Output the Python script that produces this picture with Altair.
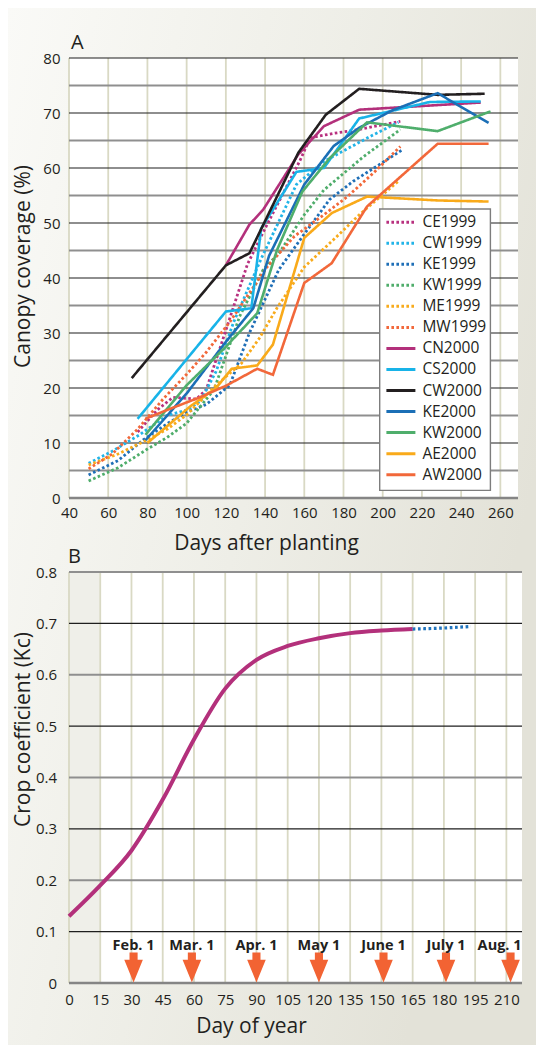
import altair as alt
import pandas as pd

FONT = "Open Sans"
INK = "#231f20"

# ---------------- Panel A: canopy coverage ----------------
SERIES = ["CE1999", "CW1999", "KE1999", "KW1999", "ME1999", "MW1999",
          "CN2000", "CS2000", "CW2000", "KE2000", "KW2000", "AE2000", "AW2000"]
COLORS = ["#b8307f", "#22b4e8", "#1f6fb7", "#4fad6b", "#f8ab1c", "#f2683a",
          "#b3307b", "#18b3e8", "#231f20", "#1b6fb6", "#4fae6c", "#f9aa1a", "#f2683a"]
DASHES = [[2.6, 2.4]] * 6 + [[1, 0]] * 7

CE1999_DAY = [75, 85, 93, 105, 110, 120, 131, 140, 158, 163, 175, 188, 209]
CE1999_COV = [12, 16, 18.3, 18, 19.7, 30.5, 42.5, 49, 61.5, 65.5, 66.3, 67, 68.5]
CW1999_DAY = [50, 62, 76, 90, 100, 107, 115, 124, 138, 156, 170, 195, 208]
CW1999_COV = [6.3, 8.5, 11.5, 15, 16, 17.6, 23, 32, 43.5, 57, 61.2, 66, 68.3]
KE1999_DAY = [50, 65, 78, 90, 100, 110, 122, 132, 147, 160, 173, 185, 210]
KE1999_COV = [4.2, 6.8, 10.6, 13.5, 15.6, 17, 20.5, 30, 41.5, 48, 54.3, 57.6, 63.3]
KW1999_DAY = [50, 65, 80, 90, 100, 114, 127, 139, 147, 160, 170, 190, 209]
KW1999_COV = [3.1, 5.5, 8.9, 11, 13.6, 19.7, 33, 41.5, 44.5, 51.5, 56, 62, 67]
ME1999_DAY = [50, 65, 80, 90, 100, 115, 128, 137, 146, 160, 175, 189, 208]
ME1999_COV = [6, 8, 10.6, 12.5, 15.1, 20.5, 24.5, 29, 34.5, 42, 47, 51.8, 57.6]
MW1999_DAY = [50, 62, 75, 88, 100, 110, 122, 141, 155, 170, 182, 195, 209]
MW1999_COV = [5.3, 8, 12.5, 18, 22.5, 26.5, 32, 42, 47.6, 51.5, 54.8, 59, 63.9]
CN2000_DAY = [120, 132, 139, 157, 170, 188, 250]
CN2000_COV = [42.3, 49.7, 52.4, 62.5, 67.6, 70.6, 71.9]
CS2000_DAY = [75, 120, 133, 138, 156, 170, 188, 224, 250]
CS2000_COV = [14.4, 33.9, 34.5, 49, 59.3, 60, 69, 72, 72.1]
CW2000_DAY = [72, 120, 132, 157, 171, 188, 228, 252]
CW2000_COV = [21.8, 42.3, 44.5, 62.8, 69.7, 74.4, 73.3, 73.5]
KE2000_DAY = [79, 100, 120, 134, 142, 160, 175, 188, 205, 228, 254]
KE2000_COV = [10.5, 19, 28.4, 34.5, 44, 57, 64, 67.3, 70.5, 73.6, 68.2]
KW2000_DAY = [79, 100, 120, 136, 146, 159, 173, 192, 228, 255]
KW2000_COV = [11.5, 20.5, 27.5, 33.6, 45, 55.7, 61.8, 68.3, 66.7, 70.3]
AE2000_DAY = [80, 102, 115, 123, 136, 144, 160, 174, 192, 228, 254]
AE2000_COV = [10, 16.7, 20, 23.5, 24.1, 27.9, 47.3, 51.8, 54.8, 54.1, 53.9]
AW2000_DAY = [79, 90, 106, 120, 136, 144, 160, 174, 192, 228, 254]
AW2000_COV = [14.4, 16, 18.2, 20.4, 23.5, 22.4, 39.1, 42.7, 53, 64.4, 64.4]

A_X_TICKS = [40, 60, 80, 100, 120, 140, 160, 180, 200, 220, 240, 260]
A_Y_TICKS = [0, 10, 20, 30, 40, 50, 60, 70, 80]
A_MINOR = [5, 15, 25, 35, 45, 55, 65, 75]

# ---------------- Panel B: crop coefficient ----------------
KC_DAY = [0, 15, 30, 45, 60, 75, 90, 105, 120, 135, 150, 165]
KC_VAL = [0.13, 0.19, 0.258, 0.357, 0.474, 0.573, 0.629, 0.656, 0.671, 0.681, 0.686, 0.689]
KC_EXT_DAY = [165, 180, 193]
KC_EXT_VAL = [0.689, 0.691, 0.694]

MONTH_DAY = [31, 59, 90, 120, 151, 181, 212]
MONTH_LABEL = ["Feb. 1", "Mar. 1", "Apr. 1", "May 1", "June 1", "July 1", "Aug. 1"]

B_X_TICKS = [0, 15, 30, 45, 60, 75, 90, 105, 120, 135, 150, 165, 180, 195, 210]
B_Y_TICKS = [0, 0.1, 0.2, 0.3, 0.4, 0.5, 0.6, 0.7, 0.8]
B_MAJOR = [0.1, 0.3, 0.5, 0.7]
B_MINOR = [0.2, 0.4, 0.6, 0.8]

# ---------------- build tables ----------------
series_arrays = [
    ("CE1999", CE1999_DAY, CE1999_COV), ("CW1999", CW1999_DAY, CW1999_COV),
    ("KE1999", KE1999_DAY, KE1999_COV), ("KW1999", KW1999_DAY, KW1999_COV),
    ("ME1999", ME1999_DAY, ME1999_COV), ("MW1999", MW1999_DAY, MW1999_COV),
    ("CN2000", CN2000_DAY, CN2000_COV), ("CS2000", CS2000_DAY, CS2000_COV),
    ("CW2000", CW2000_DAY, CW2000_COV), ("KE2000", KE2000_DAY, KE2000_COV),
    ("KW2000", KW2000_DAY, KW2000_COV), ("AE2000", AE2000_DAY, AE2000_COV),
    ("AW2000", AW2000_DAY, AW2000_COV),
]
rows = [{"series": s, "day": d, "cov": c}
        for s, ds, cs in series_arrays for d, c in zip(ds, cs)]
df_all = pd.DataFrame(rows)
df_dot = df_all[df_all["series"].isin(SERIES[:6])]
df_solid = df_all[df_all["series"].isin(SERIES[6:])]
leg_df = pd.DataFrame({"series": SERIES})
ONE = pd.DataFrame({"k": [0]})

A_W, A_H = 449, 440
B_W, B_H = 453, 411

xA = alt.Scale(domain=[40, 269], nice=False, zero=False)
yA = alt.Scale(domain=[0, 80], nice=False)
xB = alt.Scale(domain=[0, 217.5], nice=False, zero=False)
yB = alt.Scale(domain=[0, 0.8], nice=False)


def lab_axis(**kw):
    return alt.Axis(grid=False, ticks=False, domain=False,
                    labelFont=FONT, labelFontSize=15, labelColor=INK,
                    labelOverlap=False,
                    titleFont=FONT, titleFontSize=21, titleFontWeight="normal",
                    titleColor=INK, zindex=1, **kw)


axA_x = lab_axis(values=A_X_TICKS, labelPadding=7, labelFlush=False,
                 title="Days after planting", titleX=197, titleY=45,
                 titleAlign="center", titleBaseline="middle")
axA_y = lab_axis(values=A_Y_TICKS, labelPadding=9,
                 title="Canopy coverage (%)", titleX=-45.5, titleY=208,
                 titleAlign="center", titleBaseline="middle", titleAngle=270)
axB_x = lab_axis(values=B_X_TICKS, labelPadding=9, labelFlush=False,
                 title="Day of year", titleX=182, titleY=43,
                 titleAlign="center", titleBaseline="middle")
axB_y = lab_axis(values=B_Y_TICKS, labelPadding=12.5,
                 labelExpr="datum.value == 0 ? '0' : format(datum.value, '.1f')",
                 title="Crop coefficient (Kc)", titleX=-45.5, titleY=157,
                 titleAlign="center", titleBaseline="middle", titleAngle=270)

color_enc = alt.Color("series:N", scale=alt.Scale(domain=SERIES, range=COLORS), legend=None)
dash_enc = alt.StrokeDash("series:N", scale=alt.Scale(domain=SERIES, range=DASHES), legend=None)

GRID_BEIGE = "#d9d9c4"
GRID_GRAY = "#8f8f8f"
GRID_BLACK = "#1e1e1e"

XA = lambda f: alt.X(f, scale=xA, axis=axA_x)
YA = lambda f: alt.Y(f, scale=yA, axis=axA_y)
XB = lambda f: alt.X(f, scale=xB, axis=axB_x)
YB = lambda f: alt.Y(f, scale=yB, axis=axB_y)

# ---------------- Panel A layers ----------------
bgA = alt.Chart(ONE).mark_rect(
    fill=alt.Gradient(gradient="linear", x1=0, y1=0, x2=1, y2=0.45,
                      stops=[alt.GradientStop(color="#fafaf7", offset=0),
                             alt.GradientStop(color="#eeeee7", offset=0.55),
                             alt.GradientStop(color="#e3e2d8", offset=1)]),
    strokeWidth=0,
).encode(x=alt.value(-61), x2=alt.value(467), y=alt.value(-50), y2=alt.value(987))

plotA = alt.Chart(ONE).mark_rect(fill="white").encode(
    x=alt.value(0), x2=alt.value(A_W), y=alt.value(0), y2=alt.value(A_H))

vgridA = alt.Chart(pd.DataFrame({"d": A_X_TICKS})).mark_rule(
    color=GRID_BEIGE, strokeWidth=1.8).encode(
    x=XA("d:Q"), y=alt.value(0), y2=alt.value(A_H))
minorA = alt.Chart(pd.DataFrame({"v": A_MINOR})).mark_rule(
    color=GRID_GRAY, strokeWidth=2).encode(
    y=YA("v:Q"), x=alt.value(0), x2=alt.value(A_W))
majorA = alt.Chart(pd.DataFrame({"v": A_Y_TICKS[1:]})).mark_rule(
    color=GRID_BLACK, strokeWidth=1.1).encode(
    y=YA("v:Q"), x=alt.value(0), x2=alt.value(A_W))
baseA = alt.Chart(pd.DataFrame({"v": A_Y_TICKS[:1]})).mark_rule(
    color="#858585", strokeWidth=2.6).encode(
    y=YA("v:Q"), x=alt.value(0), x2=alt.value(A_W))

dotA = alt.Chart(df_dot).mark_line(strokeWidth=2.8, strokeCap="butt").encode(
    x=XA("day:Q"), y=YA("cov:Q"), color=color_enc, strokeDash=dash_enc)
solidA = alt.Chart(df_solid).mark_line(strokeWidth=2.6).encode(
    x=XA("day:Q"), y=YA("cov:Q"), color=color_enc, strokeDash=dash_enc)

labelA = alt.Chart(ONE).mark_text(text="A", font=FONT, fontSize=20, color=INK,
                                  align="left", baseline="alphabetic").encode(
    x=alt.value(2), y=alt.value(-9))

innerA = alt.layer(bgA, plotA, vgridA, minorA, majorA, baseA, dotA, solidA, labelA)

leg_y = alt.Y("series:N", scale=alt.Scale(type="point", domain=SERIES,
                                          range=[164.2, 416.7], padding=0), axis=None)
boxA = alt.Chart(ONE).mark_rect(fill="white", stroke="#7d7d7d", strokeWidth=1.4).encode(
    x=alt.value(310.7), x2=alt.value(421.4), y=alt.value(151), y2=alt.value(432.4))
legLines = alt.Chart(leg_df).mark_rule(strokeWidth=3, strokeCap="butt").encode(
    x=alt.value(317.4), x2=alt.value(346.4), y=leg_y, color=color_enc, strokeDash=dash_enc)
legText = alt.Chart(leg_df).mark_text(align="left", baseline="middle", font=FONT,
                                      fontSize=15.5, color=INK).encode(
    x=alt.value(353.4), y=leg_y, text="series:N")

chartA = alt.layer(innerA, boxA, legLines, legText).resolve_scale(
    y="independent").properties(width=A_W, height=A_H)

# ---------------- Panel B layers ----------------
plotB = alt.Chart(ONE).mark_rect(fill="white").encode(
    x=alt.value(0), x2=alt.value(B_W), y=alt.value(0), y2=alt.value(B_H))
shadeB = alt.Chart(ONE).mark_rect(fill="#efefe9").encode(
    x=alt.XDatum(0, scale=xB, axis=axB_x), x2=alt.X2Datum(15),
    y=alt.value(0), y2=alt.value(B_H))
vgridB = alt.Chart(pd.DataFrame({"d": B_X_TICKS})).mark_rule(
    color=GRID_BEIGE, strokeWidth=1.8).encode(
    x=XB("d:Q"), y=alt.value(0), y2=alt.value(B_H))
minorB = alt.Chart(pd.DataFrame({"v": B_MINOR})).mark_rule(
    color=GRID_GRAY, strokeWidth=2).encode(
    y=YB("v:Q"), x=alt.value(0), x2=alt.value(B_W))
majorB = alt.Chart(pd.DataFrame({"v": B_MAJOR})).mark_rule(
    color=GRID_BLACK, strokeWidth=1.1).encode(
    y=YB("v:Q"), x=alt.value(0), x2=alt.value(B_W))
baseB = alt.Chart(pd.DataFrame({"v": B_Y_TICKS[:1]})).mark_rule(
    color="#858585", strokeWidth=2.6).encode(
    y=YB("v:Q"), x=alt.value(0), x2=alt.value(B_W))

curveB = alt.Chart(pd.DataFrame({"day": KC_DAY, "kc": KC_VAL})).mark_line(
    color="#b3307b", strokeWidth=4, interpolate="monotone").encode(
    x=XB("day:Q"), y=YB("kc:Q"))
extB = alt.Chart(pd.DataFrame({"day": KC_EXT_DAY, "kc": KC_EXT_VAL})).mark_line(
    color="#1f73bd", strokeWidth=3.2, strokeDash=[2.7, 2.6], strokeCap="butt",
    interpolate="monotone").encode(
    x=XB("day:Q"), y=YB("kc:Q"))

ARROW = "M-0.27,-1L0.27,-1L0.27,-0.51L0.62,-0.51L0,1L-0.62,-0.51L-0.27,-0.51Z"
months = pd.DataFrame({"day": MONTH_DAY, "label": MONTH_LABEL})
arrowsB = alt.Chart(months).mark_point(
    shape=ARROW, filled=True, size=900, color="#f26333", opacity=1, strokeWidth=0).encode(
    x=XB("day:Q"), y=alt.YDatum(0.0304, scale=yB, axis=axB_y))
monthTxt = alt.Chart(months.iloc[:-1]).mark_text(
    font=FONT, fontSize=14.5, fontWeight="bold", color=INK,
    align="center", baseline="middle").encode(
    x=XB("day:Q"), y=alt.YDatum(0.0726, scale=yB, axis=axB_y), text="label:N")
monthLast = alt.Chart(months.iloc[-1:]).mark_text(
    font=FONT, fontSize=14.5, fontWeight="bold", color=INK,
    align="right", baseline="middle", dx=11).encode(
    x=XB("day:Q"), y=alt.YDatum(0.0726, scale=yB, axis=axB_y), text="label:N")

labelB = alt.Chart(ONE).mark_text(text="B", font=FONT, fontSize=20, color=INK,
                                  align="left", baseline="alphabetic").encode(
    x=alt.value(-1), y=alt.value(-9))

chartB = alt.layer(plotB, shadeB, vgridB, minorB, majorB, baseB, curveB, extB,
                   arrowsB, monthTxt, monthLast, labelB).properties(width=B_W, height=B_H)

chart = alt.vconcat(chartA, chartB, spacing=74, bounds="flush").properties(
    padding=0, background="#f1f1ec").configure_view(strokeWidth=0)

chart.save("out.html", embed_options={"renderer": "svg", "actions": False})
